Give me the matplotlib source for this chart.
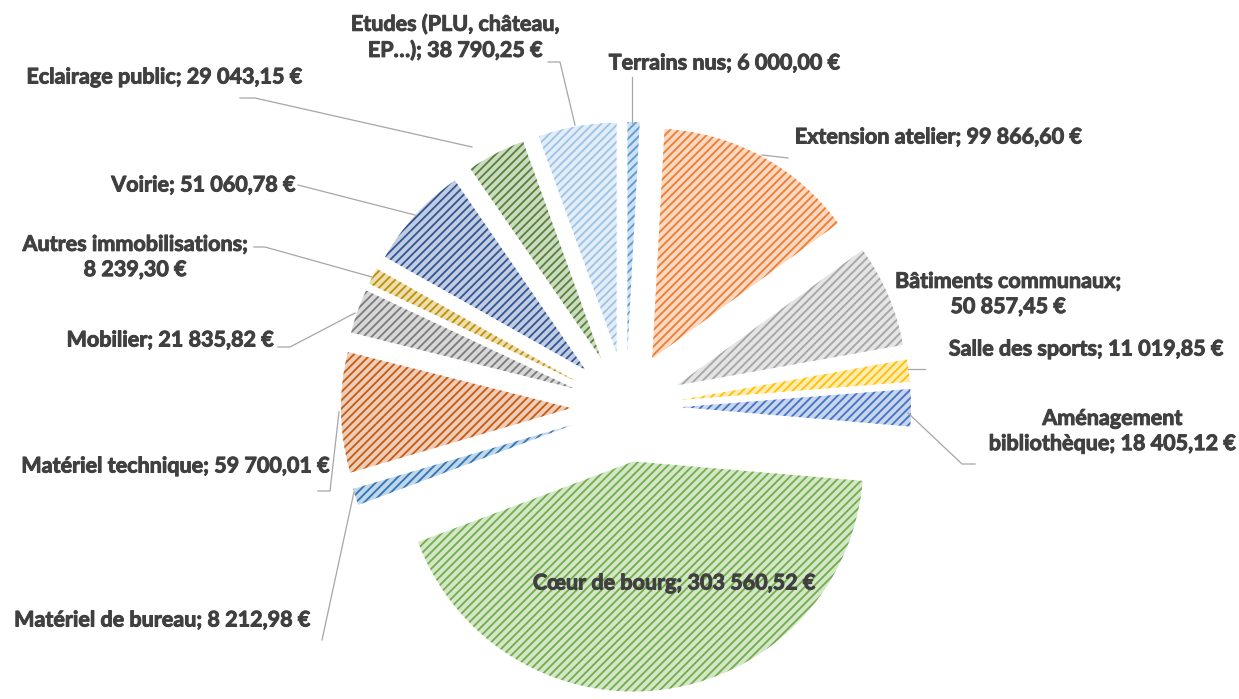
import numpy as np
import matplotlib.pyplot as plt
import matplotlib.colors as mcolors
import matplotlib.patheffects as pe

# investment spending by item (euros), in pie order starting at 12 o'clock, clockwise
categories = [
    "Terrains nus", "Extension atelier", "Bâtiments communaux", "Salle des sports",
    "Aménagement bibliothèque", "Cœur de bourg", "Matériel de bureau",
    "Matériel technique", "Mobilier", "Autres immobilisations", "Voirie",
    "Eclairage public", "Etudes (PLU, château, EP…)",
]
values = [
    6000.00, 99866.60, 50857.45, 11019.85, 18405.12, 303560.52, 8212.98,
    59700.01, 21835.82, 8239.30, 51060.78, 29043.15, 38790.25,
]
colors = [
    "#5B9BD5", "#ED7D31", "#A5A5A5", "#FFC000", "#4472C4", "#70AD47", "#2E75B6",
    "#C55A11", "#7B7B7B", "#BF9000", "#2F5597", "#548235", "#9DC3E6",
]
# where the label text wraps
wraps = {
    "Bâtiments communaux; ": "Bâtiments communaux;\n",
    "Aménagement bibliothèque; ": "Aménagement\nbibliothèque; ",
    "Autres immobilisations; ": "Autres immobilisations;\n",
    "Etudes (PLU, château, EP…); ": "Etudes (PLU, château,\nEP…); ",
}

W, H = 1239, 699


def euro(v):
    s = f"{v:,.2f}".replace(",", " ").replace(".", ",")
    return s + " €"


def py(y):
    return H - y


labels = []
for c, v in zip(categories, values):
    head = c + "; "
    head = wraps.get(head, head)
    labels.append(head + euro(v))

# label centres and leader lines, in pixel coords (y from top)
label_pos = [
    (724, 63), (938, 137), (1008, 294), (1086, 349), (1112, 431), (674, 583),
    (162, 620), (175, 466), (170, 340), (135, 257), (203, 185), (164, 77), (455, 37),
]
leaders = [
    [(632, 77), (632, 123)],
    [(762, 155), (788, 158)],
    None,
    [(908, 369), (925, 369)],
    [(908, 413), (962, 464), (975, 464)],
    None,
    [(322, 640), (354, 492)],
    [(318, 491), (330, 491), (339, 412)],
    [(278, 347), (290, 347), (355, 313)],
    [(254, 247), (265, 247), (372, 277)],
    [(298, 185), (415, 215)],
    [(240, 98), (255, 98), (472, 147)],
    [(548, 62), (560, 62), (575, 125)],
]

plt.rcParams['hatch.linewidth'] = 1.3

fig = plt.figure(figsize=(W / 100, H / 100), dpi=100)
ax = fig.add_axes([0, 0, 1, 1])

# explode is in data units here (pixels)
wedges, _ = ax.pie(values, startangle=90, counterclock=False,
                   center=(626, py(407)), radius=230,
                   explode=[55] * len(values), frame=True)

for w, col in zip(wedges, colors):
    face = mcolors.to_rgb(col)
    light = tuple(0.3 * f + 0.7 for f in face)
    w.set_facecolor(light)
    w.set_edgecolor(col)
    w.set_linewidth(0)
    w.set_hatch("////")

for lab, (x, y), ld in zip(labels, label_pos, leaders):
    ax.text(x, py(y), lab, ha="center", va="center", fontsize=15.5,
            fontweight="bold", family=["Lato", "DejaVu Sans"], color="#404040",
            linespacing=1.25,
            path_effects=[pe.withStroke(linewidth=0.7, foreground="#404040")])
    if ld is not None:
        xs = [p[0] for p in ld]
        ys = [py(p[1]) for p in ld]
        ax.plot(xs, ys, color="#A6A6A6", lw=0.9)

ax.set_xlim(0, W)
ax.set_ylim(0, H)
ax.set_aspect("equal")
ax.axis("off")

fig.savefig("out.png", dpi=100, facecolor="white")
